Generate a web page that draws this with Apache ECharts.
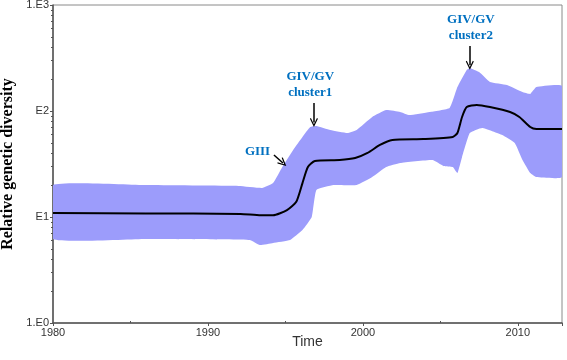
<!DOCTYPE html>
<html>
<head>
<meta charset="utf-8">
<script src="https://cdn.jsdelivr.net/npm/echarts@6/dist/echarts.min.js"></script>
<style>
  html, body { margin: 0; padding: 0; background: #fff; }
  #chart { width: 567px; height: 360px; }
</style>
</head>
<body>
<div id="chart"></div>
<script>
// median line
const medYears = [1980, 1986, 1992.1, 1993.4, 1994.2, 1995.1, 1995.7, 1996.1, 1996.45, 1996.9, 1998.5, 1999.5, 2000.3, 2001.1, 2001.9, 2003.9, 2005.8, 2006.1, 2006.4, 2006.7, 2007.35, 2008.2, 2009.5, 2010.1, 2010.8, 2011.2, 2012.85]
const median = [10.9, 10.8, 10.7, 10.4, 10.4, 11.6, 13.9, 20.9, 29.6, 33.8, 34.5, 36, 40.2, 47.8, 53.3, 54.4, 56.9, 62, 87.8, 109, 114, 109, 98, 87.8, 70.6, 67.6, 67.6]

// 95% HPD upper bound
const hiYears = [1980, 1986, 1992, 1993.5, 1994.2, 1994.8, 1995.5, 1996.1, 1996.6, 1997.0, 1997.9, 1999.0, 1999.6, 2000.6, 2001.5, 2002.4, 2003.0, 2004.3, 2005.6, 2006.1, 2006.7, 2006.9, 2007.5, 2008.2, 2009.3, 2010.3, 2010.8, 2011.2, 2012.85]
const upper = [20, 20, 19.6, 18.8, 20.9, 29.6, 42.9, 56.9, 70.6, 72.2, 66.2, 62, 66.2, 87.8, 102, 98, 91.6, 98, 107, 168, 244, 255, 233, 188, 176, 151, 145, 168, 172]

// 95% HPD lower bound
const loYears = [1980, 1986, 1992.7, 1993.35, 1994.2, 1995.3, 1996.1, 1996.7, 1997.0, 1998.1, 1999.6, 2000.6, 2001.5, 2002.4, 2004.5, 2005.2, 2005.8, 2006.1, 2006.4, 2006.9, 2007.7, 2009.0, 2009.8, 2010.3, 2010.8, 2011.2, 2012.85]
const lower = [6.2, 6.2, 6.07, 5.44, 5.69, 6.07, 7.54, 10, 18, 20, 20, 23.8, 29.6, 32.3, 34.5, 30.3, 29.6, 26, 36.8, 62, 69.2, 59.4, 49.9, 34.5, 26, 23.8, 23.8]

const yLabels = { 1: '1.E0', 10: 'E1', 100: 'E2', 1000: '1.E3' }
const minorVals = [2, 3, 4, 5, 6, 7, 8, 9, 20, 30, 40, 50, 60, 70, 80, 90, 200, 300, 400, 500, 600, 700, 800, 900]

// annotations: [label, x, y] and arrows [[x1, y1], [x2, y2]]
const notes = [
  ['GIII', 1993.2, 41],
  ['GIV/GV\ncluster1', 1996.6, 176],
  ['GIV/GV\ncluster2', 2006.97, 607]
]
const arrows = [
  [[1994.26, 38.5], [1994.84, 32.3]],
  [[1996.84, 119], [1996.84, 78]],
  [[2006.9, 410], [2006.9, 270]]
]

const chart = echarts.init(document.getElementById('chart'))

const zip = (xs, ys) => xs.map((x, i) => [x, ys[i]])
const bandPts = zip(hiYears, upper).concat(zip(loYears, lower).reverse())

const arrowHead = 'path://M5,0L10,9L8.8,9.8L5,3L1.2,9.8L0,9Z'

const option = {
  animation: false,
  grid: {
    left: 53, right: 5, top: 5, bottom: 37,
    outerBoundsMode: 'none',
    show: true, borderColor: '#8a8a8a', borderWidth: 1
  },
  xAxis: {
    type: 'value',
    min: 1980,
    max: 2012.85,
    interval: 10,
    name: 'Time',
    nameLocation: 'middle',
    nameGap: 12,
    nameMoveOverlap: false,
    nameTextStyle: { fontFamily: 'Liberation Sans', fontSize: 14, color: '#333', verticalAlign: 'top' },
    axisLine: { lineStyle: { color: '#555', width: 1.5 } },
    axisTick: { length: 3, lineStyle: { color: '#555' } },
    minorTick: { show: true, splitNumber: 2, length: -2, lineStyle: { color: '#555' } },
    splitLine: { show: false },
    axisLabel: {
      margin: 4, showMaxLabel: false,
      fontFamily: 'Liberation Sans', fontSize: 11, color: '#333',
      formatter: v => String(v)
    }
  },
  yAxis: [
    {
      type: 'log',
      logBase: 10,
      min: 1,
      max: 1000,
      name: 'Relative genetic diversity',
      nameLocation: 'middle',
      nameGap: 36,
      nameTextStyle: { fontFamily: 'Liberation Serif', fontWeight: 'bold', fontSize: 16, color: '#000' },
      axisLine: { lineStyle: { color: '#555', width: 1.5 } },
      axisTick: { length: 3, lineStyle: { color: '#555' } },
      splitLine: { show: false },
      axisLabel: {
        margin: 4,
        fontFamily: 'Liberation Sans', fontSize: 11, color: '#333',
        formatter: v => yLabels[Math.round(v)] || ''
      }
    },
    {
      type: 'log',
      logBase: 10,
      min: 1,
      max: 1000,
      position: 'left',
      axisLine: { show: false },
      axisTick: { length: 2, customValues: minorVals, lineStyle: { color: '#555' } },
      axisLabel: { show: false },
      splitLine: { show: false }
    }
  ],
  series: [
    {
      type: 'custom',
      name: 'HPD',
      data: [0],
      clip: true,
      renderItem: (params, api) => ({
        type: 'polygon',
        shape: { points: bandPts.map(p => api.coord(p)), smooth: 0.12 },
        style: { fill: '#9c9cfb', stroke: null }
      }),
      z: 1
    },
    {
      type: 'line',
      name: 'Median',
      data: zip(medYears, median),
      smooth: 0.2,
      showSymbol: false,
      lineStyle: { color: '#000', width: 2 },
      z: 2,
      markPoint: {
        symbol: 'circle',
        symbolSize: 1,
        itemStyle: { color: 'rgba(0,0,0,0)' },
        label: {
          show: true,
          position: 'inside',
          fontFamily: 'Liberation Serif', fontWeight: 'bold', fontSize: 13,
          color: '#0070c0', lineHeight: 16, align: 'center', verticalAlign: 'middle',
          formatter: p => p.name
        },
        data: notes.map(n => ({ name: n[0], coord: [n[1], n[2]] }))
      },
      markLine: {
        silent: true,
        symbol: ['none', arrowHead],
        symbolSize: [8, 9],
        label: { show: false },
        lineStyle: { color: '#000', width: 1.5, type: 'solid' },
        data: arrows.map(a => [{ coord: a[0] }, { coord: a[1] }])
      }
    }
  ]
}

chart.setOption(option)
</script>
</body>
</html>
